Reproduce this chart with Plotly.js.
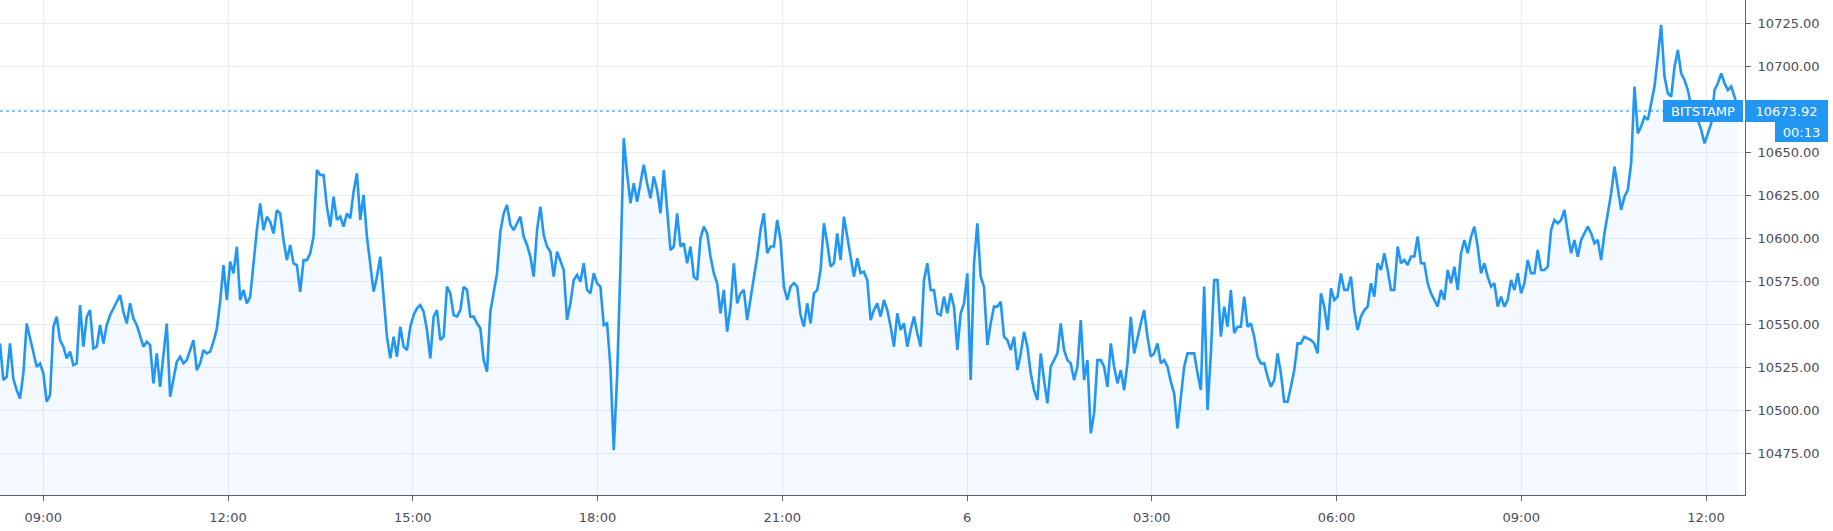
<!DOCTYPE html>
<html>
<head>
<meta charset="utf-8">
<script src="https://cdn.plot.ly/plotly-3.0.1.min.js"></script>
<style>
  html, body { margin: 0; padding: 0; background: #ffffff; }
  #chart { width: 1833px; height: 531px; }
</style>
</head>
<body>
<div id="chart"></div>
<script>
// ---- Data (BTC/USD, BITSTAMP, ~3-minute samples) ----
const seriesStart = '2019-09-05T08:17:49Z';   // first sample time
const stepSeconds = 195;                      // spacing between samples

const prices = [
  // 08:18 – 13:20
  10538.9,10517.6,10519.5,10538.9,10518.5,10511.8,10506.9,10521.5,10550.5,10541.8,
  10535.0,10525.3,10527.3,10521.5,10505.0,10508.9,10548.6,10554.4,10540.8,10537.0,
  10530.2,10534.1,10526.3,10527.3,10561.2,10537.0,10554.4,10558.3,10536.0,10537.0,
  10549.6,10538.9,10549.6,10555.4,10559.2,10563.1,10567.0,10557.3,10550.5,10562.2,
  10553.4,10549.6,10542.8,10537.0,10539.9,10537.9,10515.6,10533.1,10513.7,10531.1,
  10550.5,10507.9,10518.5,10528.2,10531.1,10527.3,10529.2,10535.0,10540.8,10523.4,
  10527.3,10535.0,10533.1,10534.1,10539.9,10547.6,10563.1,10584.4,10564.1,10586.4,
  10579.6,10595.1,10564.1,10569.9,10562.2,10566.0,10587.3,10604.8,10620.3,10604.8,
  10612.5,10609.6,10602.8,10616.4,10614.5,10599.0,10587.3,10596.1,10585.4,10584.4,
  10568.9,10587.3,10587.3,10591.2,
  // 13:20 – 18:20
  10601.0,10639.7,10636.8,10636.8,10618.4,10606.8,10624.2,10610.7,10612.6,10606.8,
  10614.5,10611.6,10627.1,10637.8,10610.7,10625.2,10601.0,10583.5,10569.0,10577.7,
  10589.3,10566.1,10542.8,10530.2,10542.8,10531.2,10548.6,10537.0,10535.1,10548.6,
  10555.4,10559.3,10561.2,10557.4,10546.7,10530.2,10554.5,10558.3,10540.9,10542.8,
  10571.9,10568.0,10555.4,10554.5,10558.3,10571.9,10570.0,10554.5,10554.5,10550.6,
  10547.7,10529.3,10522.5,10557.4,10569.0,10579.7,10603.9,10614.5,10619.4,10607.8,
  10604.8,10608.7,10612.6,10601.0,10596.1,10589.3,10577.7,10604.8,10618.4,10601.9,
  10595.2,10592.2,10577.7,10592.2,10587.4,10581.6,10552.5,10562.2,10575.8,10578.7,
  10574.8,10585.5,10570.0,10568.0,10579.7,10573.8,10571.9,10549.6,10550.6,10525.4,
  10476.9,10519.6,10583.5,
  // 18:20 – 23:20
  10658.2,10637.8,10620.4,10632.0,10621.3,10632.0,10642.7,10632.0,10623.3,10635.9,
  10628.1,10614.5,10639.7,10616.5,10593.2,10595.2,10614.5,10595.2,10597.1,10585.5,
  10595.2,10577.7,10575.8,10600.0,10606.8,10602.9,10589.4,10579.7,10573.9,10556.4,
  10570.0,10545.8,10560.3,10585.5,10562.2,10568.0,10570.0,10552.5,10564.2,10575.8,
  10589.4,10604.9,10614.5,10591.3,10595.2,10595.2,10610.7,10599.0,10571.9,10564.2,
  10571.9,10573.9,10571.9,10555.4,10548.7,10562.2,10550.6,10568.0,10570.0,10581.6,
  10608.7,10597.1,10583.5,10585.5,10602.9,10587.4,10612.6,10601.0,10589.4,10577.7,
  10588.4,10579.7,10580.6,10575.8,10552.5,10558.3,10562.2,10554.5,10564.2,10558.3,
  10548.7,10537.0,10556.4,10546.7,10550.6,10537.0,10546.7,10554.5,10544.8,10537.0,
  10575.8,10585.5,10570.0,
  // 23:20 – 06:00
  10569.9,10556.4,10555.4,10566.1,10556.4,10568.0,10560.3,10535.1,10556.4,10562.2,
  10579.6,10517.6,10585.4,10608.7,10577.7,10571.9,10538.0,10550.6,10560.3,10560.3,
  10563.2,10542.8,10540.9,10535.1,10542.8,10523.4,10533.1,10545.7,10537.0,10521.5,
  10511.8,10506.0,10533.1,10517.6,10504.1,10525.4,10529.2,10533.1,10550.6,10535.1,
  10529.2,10527.3,10517.6,10525.4,10552.5,10517.6,10529.2,10486.6,10498.2,10529.2,
  10529.2,10525.4,10513.7,10538.9,10525.4,10515.7,10523.4,10511.8,10527.3,10554.4,
  10533.1,10542.8,10550.6,10558.3,10542.8,10531.2,10533.1,10538.9,10527.3,10529.2,
  10525.4,10516.7,10509.9,10489.5,10506.0,10525.4,10533.1,10533.1,10533.1,10521.5,
  10511.8,10571.9,10500.2,10533.1,10575.8,10575.8,10542.8,10560.3,10548.6,10569.9,
  10544.8,10548.6,10548.6,10566.1,10548.6,10550.6,10542.8,10531.2,10527.3,10527.3,
  10519.6,10513.7,10517.6,10533.1,10521.5,10505.0,10505.0,10513.7,10523.4,10538.9,
  10538.9,10542.8,10541.8,10540.9,10538.9,10533.1,10568.0,10560.3,10546.7,10570.9,
  10564.1,10566.1,10579.6,
  // 06:00 – 09:35
  10570.0,10570.0,10577.7,10558.3,10546.7,10554.5,10558.3,10560.3,10573.9,10566.1,
  10585.5,10581.6,10591.3,10581.6,10570.0,10570.0,10595.2,10585.5,10587.4,10584.5,
  10589.4,10589.4,10601.0,10585.5,10585.5,10573.9,10568.0,10564.2,10560.3,10570.0,
  10564.2,10581.6,10573.9,10583.5,10570.0,10591.3,10599.0,10591.3,10601.0,10606.8,
  10595.2,10579.7,10585.5,10577.7,10571.9,10573.9,10560.3,10566.1,10560.3,10564.2,
  10575.8,10570.0,10579.7,10568.0,10573.9,10587.4,10579.7,10579.7,10593.2,10581.6,
  10581.6,10583.5,10604.9,10610.7,10608.7,10610.7,
  // 09:35 – 12:30
  10616.5,10602.9,10591.3,10599.0,10589.3,10599.0,10602.9,10606.8,10602.9,10597.1,
  10599.0,10587.4,10602.9,10614.5,10626.1,10641.7,10630.0,10616.5,10624.2,10628.1,
  10643.6,10688.2,10661.0,10665.0,10670.7,10668.8,10678.5,10688.2,10705.6,10724.0,
  10694.0,10684.3,10682.4,10699.8,10709.5,10695.9,10692.0,10686.2,10676.6,10672.7,
  10668.8,10663.0,10655.2,10661.0,10666.8,10686.2,10690.1,10695.9,10690.1,10686.2,
  10688.2,10682.4,10673.92
];

const tickTimes  = ['2019-09-05 09:00','2019-09-05 12:00','2019-09-05 15:00','2019-09-05 18:00',
                    '2019-09-05 21:00','2019-09-06 00:00','2019-09-06 03:00','2019-09-06 06:00',
                    '2019-09-06 09:00','2019-09-06 12:00'];
const tickLabels = ['09:00','12:00','15:00','18:00','21:00','6','03:00','06:00','09:00','12:00'];
const priceTicks = [10475, 10500, 10525, 10550, 10575, 10600, 10625, 10650, 10675, 10700, 10725];
const priceTickLabels = ['10475.00','10500.00','10525.00','10550.00','10575.00','10600.00',
                         '10625.00','10650.00','','10700.00','10725.00'];
const lastPrice = 10673.92;
const lastPriceLabel = '10673.92';
const exchangeName = 'BITSTAMP';
const countdown = '00:13';

// ---- Build ----
const startMs = Date.parse(seriesStart);
function fmt(ms) { return new Date(ms).toISOString().replace('T', ' ').replace('Z', ''); }
const times = prices.map((_, i) => fmt(startMs + i * stepSeconds * 1000));

const BLUE = '#2196f3';
const GRID = '#e7edf3';
const AXIS = '#5d606b';
const TEXT = '#4a4d58';
const FONT = 'DejaVu Sans, sans-serif';

const trace = {
  type: 'scatter', mode: 'lines',
  x: times, y: prices,
  line: { color: BLUE, width: 2.6, shape: 'linear' },
  fill: 'tozeroy', fillcolor: 'rgba(33,150,243,0.055)',
  hoverinfo: 'skip'
};

const plotW = 1745, plotH = 495;

const layout = {
  width: 1833, height: 531,
  margin: { l: 0, r: 1833 - plotW, t: 0, b: 531 - plotH, pad: 0 },
  paper_bgcolor: '#ffffff', plot_bgcolor: '#ffffff',
  showlegend: false,
  font: { family: FONT, size: 13, color: TEXT },
  xaxis: {
    type: 'date',
    range: ['2019-09-05 08:17:49', '2019-09-06 12:38:00'],
    tickmode: 'array', tickvals: tickTimes, ticktext: tickLabels,
    showgrid: true, gridcolor: GRID, gridwidth: 1,
    showline: true, linecolor: AXIS, linewidth: 1,
    ticks: 'outside', ticklen: 5, tickcolor: AXIS, tickwidth: 1,
    ticklabelstandoff: 5,
    tickfont: { family: FONT, size: 13, color: TEXT },
    zeroline: false, fixedrange: true
  },
  yaxis: {
    side: 'right',
    range: [10450.8, 10738.5],
    tickmode: 'array', tickvals: priceTicks, ticktext: priceTickLabels,
    showgrid: true, gridcolor: GRID, gridwidth: 1,
    showline: true, linecolor: AXIS, linewidth: 1,
    ticks: 'outside', ticklen: 5, tickcolor: AXIS, tickwidth: 1,
    ticklabelstandoff: 4,
    tickfont: { family: FONT, size: 13, color: TEXT },
    zeroline: false, fixedrange: true
  },
  shapes: [
    { type: 'line', xref: 'paper', x0: 0, x1: 1, yref: 'y', y0: lastPrice, y1: lastPrice,
      line: { color: BLUE, width: 1, dash: 'dot' }, layer: 'above' }
  ],
  annotations: [
    { xref: 'paper', x: 1743 / plotW, xanchor: 'right', yref: 'y', y: lastPrice, yanchor: 'middle',
      text: exchangeName, showarrow: false, width: 80, height: 22, align: 'center',
      bgcolor: BLUE, borderpad: 0, borderwidth: 0,
      font: { family: FONT, size: 13, color: '#ffffff' } },
    { xref: 'paper', x: 1, xanchor: 'left', yref: 'y', y: lastPrice, yanchor: 'middle',
      text: lastPriceLabel, showarrow: false, width: 83, height: 22, align: 'center',
      bgcolor: BLUE, borderpad: 0, borderwidth: 0,
      font: { family: FONT, size: 13, color: '#ffffff' } },
    { xref: 'paper', x: 1828 / plotW, xanchor: 'right', yref: 'paper', y: 1 - 122 / plotH, yanchor: 'top',
      text: countdown, showarrow: false, width: 53, height: 20, align: 'center',
      bgcolor: BLUE, borderpad: 0, borderwidth: 0,
      font: { family: FONT, size: 13, color: '#ffffff' } }
  ]
};

Plotly.newPlot('chart', [trace], layout, { displayModeBar: false, staticPlot: true });
</script>
</body>
</html>
